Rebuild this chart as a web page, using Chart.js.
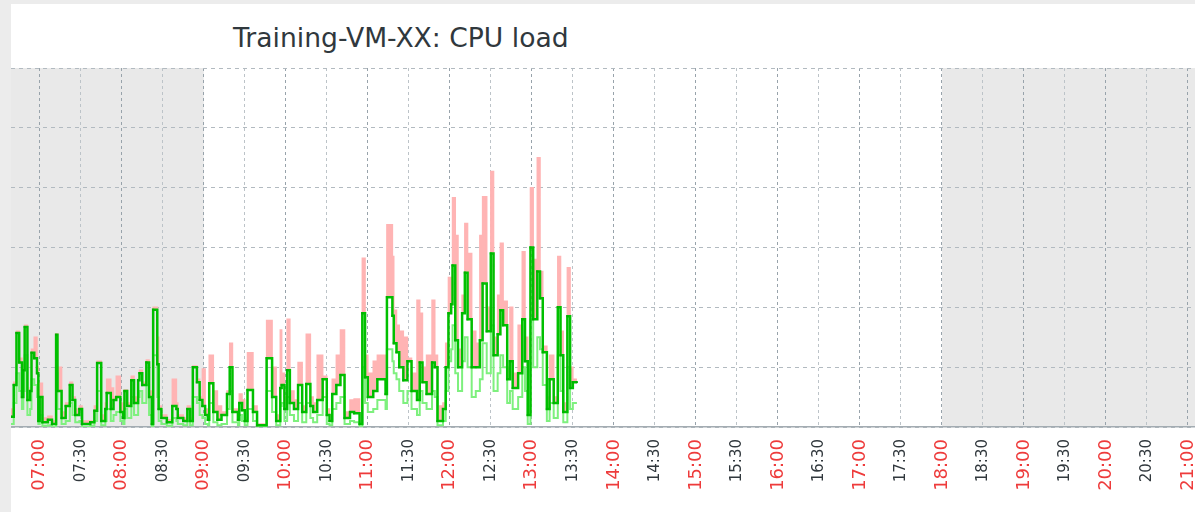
<!DOCTYPE html>
<html>
<head>
<meta charset="utf-8">
<script src="https://cdn.jsdelivr.net/npm/chart.js@4"></script>
<style>
  html, body { margin: 0; padding: 0; }
  body { width: 1195px; height: 512px; overflow: hidden; background: #ececec; position: relative; }
  #panel { position: absolute; left: 11px; top: 4px; right: 0; bottom: 0; background: #ffffff; }
  #title { position: absolute; left: 233px; top: 22px; font: 26.6px 'DejaVu Sans', sans-serif; color: #30383d; white-space: nowrap; }
  #wrap { position: absolute; left: 11px; top: 60px; }
</style>
</head>
<body>
<div id="panel"></div>
<div id="title">Training-VM-XX: CPU load</div>
<div id="wrap"><canvas id="cpu-chart" width="1259" height="452"></canvas></div>
<script>
// Visible time window and off-hours (grey background)
const viewStart = '06:39';
const viewEnd = '22:00';
const offHours = [['06:39', '09:00'], ['18:00', '22:00']];

// X axis tick labels (every 30 min)
const tickLabels = [
  '07:00', '07:30', '08:00', '08:30', '09:00', '09:30', '10:00', '10:30',
  '11:00', '11:30', '12:00', '12:30', '13:00', '13:30', '14:00', '14:30',
  '15:00', '15:30', '16:00', '16:30', '17:00', '17:30', '18:00', '18:30',
  '19:00', '19:30', '20:00', '20:30', '21:00',
];

// Sample times
const times = [
  '06:39', '06:41', '06:43', '06:45', '06:47', '06:48', '06:49', '06:51', '06:53', '06:54',
  '06:56', '06:58', '06:59', '07:00', '07:02', '07:06', '07:09', '07:12', '07:13', '07:16',
  '07:19', '07:22', '07:24', '07:26', '07:29', '07:31', '07:37', '07:40', '07:42', '07:45',
  '07:48', '07:49', '07:52', '07:54', '07:56', '07:59', '08:01', '08:02', '08:04', '08:07',
  '08:09', '08:12', '08:13', '08:15', '08:18', '08:20', '08:22', '08:23', '08:26', '08:27',
  '08:29', '08:33', '08:37', '08:40', '08:41', '08:45', '08:48', '08:50', '08:52', '08:55',
  '08:57', '08:59', '09:01', '09:03', '09:04', '09:07', '09:10', '09:13', '09:17', '09:19',
  '09:21', '09:25', '09:26', '09:28', '09:30', '09:32', '09:36', '09:39', '09:46', '09:50',
  '09:53', '09:56', '09:57', '09:59', '10:01', '10:03', '10:06', '10:09', '10:12', '10:15',
  '10:18', '10:20', '10:23', '10:27', '10:30', '10:32', '10:34', '10:37', '10:40', '10:43',
  '10:47', '10:50', '10:54', '10:56', '10:58', '11:00', '11:04', '11:07', '11:13', '11:14',
  '11:18', '11:19', '11:21', '11:23', '11:26', '11:29', '11:32', '11:36', '11:38', '11:40',
  '11:43', '11:47', '11:49', '11:51', '11:55', '11:57', '11:59', '12:01', '12:02', '12:04',
  '12:06', '12:09', '12:11', '12:13', '12:16', '12:19', '12:22', '12:24', '12:27', '12:30',
  '12:32', '12:35', '12:37', '12:39', '12:42', '12:44', '12:46', '12:50', '12:53', '12:55',
  '12:57', '12:59', '13:01', '13:04', '13:06', '13:08', '13:11', '13:13', '13:16', '13:19',
  '13:21', '13:23', '13:26', '13:28', '13:30', '13:33',
];

// Processor load, avg per sample
const avgLoad = [
  0.17, 0.70, 1.57, 1.08, 0.50, 0.95, 1.67, 0.45, 0.60, 1.24,
  1.15, 0.90, 0.10, 0.50, 0.08, 0.12, 0.05, 1.54, 0.60, 0.15,
  0.35, 0.70, 0.45, 0.20, 0.30, 0.05, 0.08, 0.27, 1.07, 0.10,
  0.30, 0.57, 0.30, 0.45, 0.50, 0.25, 0.15, 0.60, 0.35, 0.78,
  0.40, 0.78, 0.90, 0.70, 1.08, 0.50, 0.05, 1.96, 1.05, 0.30,
  0.15, 0.08, 0.35, 0.30, 0.15, 0.10, 0.30, 0.10, 1.00, 0.75,
  0.45, 0.35, 0.20, 0.12, 0.73, 0.25, 0.12, 0.20, 0.55, 1.00,
  0.25, 0.12, 0.40, 0.28, 0.10, 0.62, 0.25, 0.03, 1.15, 0.50,
  0.10, 0.65, 0.70, 0.30, 0.95, 0.40, 0.30, 0.70, 0.25, 0.72,
  0.35, 0.25, 0.45, 0.80, 0.20, 0.10, 0.55, 0.70, 0.87, 0.15,
  0.25, 0.23, 0.05, 1.90, 0.83, 0.50, 0.60, 0.80, 0.55, 2.17,
  1.86, 1.40, 1.25, 1.00, 0.78, 1.10, 0.60, 0.45, 1.08, 0.75,
  0.55, 1.08, 1.00, 0.10, 0.30, 1.00, 1.90, 2.05, 2.70, 1.45,
  1.00, 1.90, 2.58, 1.80, 1.00, 1.00, 1.45, 2.40, 1.60, 2.90,
  1.20, 1.55, 1.95, 1.70, 0.80, 1.10, 0.65, 0.90, 1.80, 1.10,
  0.20, 3.00, 1.80, 2.60, 2.15, 1.25, 0.30, 0.80, 0.40, 2.00,
  1.20, 0.25, 1.85, 0.65, 0.75, 0.75,
];

// Processor load, min per sample
const minLoad = [
  0.05, 0.40, 0.90, 0.60, 0.30, 0.60, 1.20, 0.20, 0.30, 0.80,
  0.70, 0.50, 0.05, 0.20, 0.02, 0.03, 0.00, 0.90, 0.30, 0.05,
  0.10, 0.40, 0.20, 0.08, 0.10, 0.00, 0.02, 0.10, 0.60, 0.03,
  0.10, 0.30, 0.10, 0.20, 0.25, 0.10, 0.05, 0.30, 0.15, 0.50,
  0.20, 0.50, 0.60, 0.40, 0.70, 0.20, 0.00, 1.20, 0.50, 0.10,
  0.05, 0.02, 0.15, 0.10, 0.05, 0.03, 0.10, 0.03, 0.50, 0.40,
  0.20, 0.15, 0.05, 0.03, 0.40, 0.08, 0.03, 0.05, 0.30, 0.60,
  0.08, 0.03, 0.20, 0.10, 0.03, 0.30, 0.10, 0.00, 0.60, 0.25,
  0.03, 0.35, 0.40, 0.10, 0.50, 0.20, 0.10, 0.40, 0.08, 0.40,
  0.15, 0.08, 0.20, 0.50, 0.05, 0.03, 0.30, 0.40, 0.50, 0.05,
  0.10, 0.08, 0.00, 1.00, 0.40, 0.25, 0.30, 0.45, 0.30, 1.30,
  1.10, 0.90, 0.80, 0.60, 0.40, 0.60, 0.30, 0.20, 0.60, 0.40,
  0.30, 0.60, 0.50, 0.03, 0.10, 0.60, 1.10, 1.30, 1.70, 0.90,
  0.60, 1.10, 1.50, 1.00, 0.50, 0.60, 0.80, 1.40, 0.90, 1.70,
  0.60, 0.90, 1.20, 1.00, 0.40, 0.60, 0.30, 0.50, 1.00, 0.60,
  0.05, 1.80, 1.00, 1.50, 1.30, 0.70, 0.10, 0.40, 0.15, 1.20,
  0.60, 0.08, 1.00, 0.30, 0.40, 0.40,
];

// Processor load, max per sample
const maxLoad = [
  0.30, 0.75, 1.60, 1.15, 0.55, 1.05, 1.70, 0.50, 0.65, 1.30,
  1.50, 1.00, 0.55, 0.73, 0.15, 0.18, 0.10, 1.56, 1.00, 0.25,
  0.40, 0.75, 0.50, 0.30, 0.35, 0.10, 0.10, 0.35, 1.10, 0.20,
  0.40, 0.80, 0.65, 0.50, 0.85, 0.40, 0.25, 0.62, 0.40, 0.85,
  0.50, 0.80, 0.95, 0.75, 1.12, 0.60, 0.10, 2.00, 1.50, 0.35,
  0.20, 0.12, 0.80, 0.40, 0.20, 0.15, 0.35, 0.15, 1.02, 0.80,
  0.50, 0.97, 0.30, 0.20, 1.20, 0.60, 0.35, 0.25, 0.60, 1.40,
  0.30, 0.20, 0.55, 0.45, 0.15, 1.24, 0.35, 0.05, 1.78, 1.00,
  0.20, 1.62, 0.90, 0.50, 1.80, 0.60, 0.45, 1.08, 0.35, 1.55,
  0.50, 0.40, 1.20, 0.85, 0.30, 0.20, 0.80, 1.20, 1.62, 0.25,
  0.45, 0.47, 0.10, 2.82, 1.20, 0.90, 1.10, 1.20, 0.70, 3.38,
  2.85, 1.95, 1.70, 1.60, 1.50, 1.15, 0.90, 2.12, 1.90, 1.00,
  1.20, 2.12, 1.20, 0.35, 0.40, 1.40, 2.50, 2.20, 3.83, 3.20,
  1.30, 2.20, 3.40, 2.90, 1.60, 1.40, 3.20, 3.85, 2.00, 4.27,
  1.50, 2.20, 3.07, 2.10, 1.00, 2.00, 0.90, 1.70, 2.93, 1.50,
  0.35, 4.00, 2.80, 4.50, 2.60, 1.35, 0.50, 1.20, 0.50, 2.85,
  1.60, 0.40, 2.66, 1.00, 0.80, 0.80,
];

// "HH:MM" -> minutes since midnight
const toMin = (s) => {
  const [h, m] = s.split(':').map(Number);
  return h * 60 + m;
};

const toPoints = (values) => values.map((v, i) => ({ x: toMin(times[i]), y: v }));

// Grey background outside working hours
const offHoursPlugin = {
  id: 'offHours',
  beforeDraw(chart) {
    const { ctx, chartArea, scales } = chart;
    ctx.save();
    ctx.fillStyle = '#e9e9e9';
    offHours.forEach(([from, to]) => {
      const x1 = Math.max(scales.x.getPixelForValue(toMin(from)), chartArea.left);
      const x2 = Math.min(scales.x.getPixelForValue(toMin(to)), chartArea.right);
      ctx.fillRect(x1, chartArea.top, x2 - x1, chartArea.bottom - chartArea.top);
    });
    ctx.restore();
  },
};

const isHour = (label) => label.endsWith(':00');

new Chart(document.getElementById('cpu-chart'), {
  type: 'line',
  data: {
    datasets: [
      {
        label: 'avg',
        data: toPoints(avgLoad),
        borderColor: '#00c000',
        borderWidth: 2.5,
        stepped: true,
        pointStyle: 'rect',
        pointRadius: 1.4,
        pointBackgroundColor: '#00b000',
        pointBorderWidth: 0,
        fill: false,
      },
      {
        label: 'min',
        data: toPoints(minLoad),
        borderColor: '#7ef07e',
        borderWidth: 2,
        stepped: true,
        pointRadius: 0,
        fill: false,
      },
      {
        label: 'max',
        data: toPoints(maxLoad),
        borderColor: '#ffb4b4',
        backgroundColor: '#ffb4b4',
        borderWidth: 1.5,
        stepped: true,
        pointRadius: 0,
        fill: 0,
      },
    ],
  },
  options: {
    responsive: false,
    animation: false,
    layout: { autoPadding: false, padding: { top: 8, left: 0, right: 0, bottom: 0 } },
    plugins: {
      legend: { display: false },
      tooltip: { enabled: false },
    },
    scales: {
      x: {
        type: 'linear',
        min: toMin(viewStart),
        max: toMin(viewEnd),
        afterBuildTicks: (scale) => {
          scale.ticks = tickLabels.map((l) => ({ value: toMin(l), label: l }));
        },
        afterFit: (scale) => {
          scale.height = 85;
          scale.paddingLeft = 0;
          scale.paddingRight = 0;
        },
        ticks: {
          autoSkip: false,
          maxRotation: 90,
          minRotation: 90,
          padding: 12,
          callback: (value) => tickLabels.find((l) => toMin(l) === value),
          color: (ctx) => (isHour(ctx.tick.label) ? '#ee3b3b' : '#31383d'),
          font: (ctx) => ({
            family: 'DejaVu Sans',
            size: ctx.tick && isHour(ctx.tick.label) ? 18 : 15,
          }),
        },
        grid: {
          drawTicks: false,
          color: (ctx) => (ctx.tick && isHour(ctx.tick.label) ? '#98a3ab' : '#bcc3c8'),
          lineWidth: 1,
        },
        border: { display: true, color: '#a3acb2', width: 1.5, dash: [3, 3] },
      },
      y: {
        min: 0,
        max: 6,
        afterFit: (scale) => {
          scale.width = 0;
        },
        ticks: { display: false, stepSize: 1 },
        grid: { drawTicks: false, color: '#b2bac0', lineWidth: 1 },
        border: { display: false, dash: [4, 4] },
      },
    },
  },
  plugins: [offHoursPlugin],
});
</script>
</body>
</html>
